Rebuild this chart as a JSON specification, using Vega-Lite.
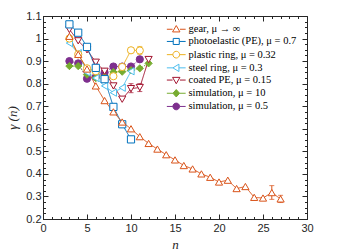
{
  "$schema": "https://vega.github.io/schema/vega-lite/v6.json",
  "width": 264,
  "height": 203,
  "autosize": "none",
  "padding": {"left": 43, "top": 16, "right": 32, "bottom": 33},
  "background": "white",
  "config": {
    "view": {"stroke": "#262626", "strokeWidth": 1},
    "axis": {"labelFont": "Liberation Sans", "labelFontSize": 11, "labelColor": "#262626", "tickColor": "#262626", "domainColor": "#262626", "grid": false}
  },
  "datasets": {
    "pts": [
      {"s": "simulation, μ = 0.5", "n": 3, "g": 0.9},
      {"s": "simulation, μ = 0.5", "n": 4, "g": 0.89},
      {"s": "simulation, μ = 0.5", "n": 5, "g": 0.822},
      {"s": "simulation, μ = 0.5", "n": 6, "g": 0.83},
      {"s": "simulation, μ = 0.5", "n": 7, "g": 0.85},
      {"s": "simulation, μ = 0.5", "n": 8, "g": 0.876},
      {"s": "simulation, μ = 0.5", "n": 9, "g": 0.876},
      {"s": "simulation, μ = 0.5", "n": 10, "g": 0.876},
      {"s": "simulation, μ = 0.5", "n": 11, "g": 0.908},
      {"s": "simulation, μ = 10", "n": 3, "g": 0.878},
      {"s": "simulation, μ = 10", "n": 4, "g": 0.878},
      {"s": "simulation, μ = 10", "n": 5, "g": 0.84},
      {"s": "simulation, μ = 10", "n": 6, "g": 0.825},
      {"s": "simulation, μ = 10", "n": 7, "g": 0.83},
      {"s": "simulation, μ = 10", "n": 8, "g": 0.852},
      {"s": "simulation, μ = 10", "n": 9, "g": 0.853},
      {"s": "simulation, μ = 10", "n": 10, "g": 0.86},
      {"s": "simulation, μ = 10", "n": 11, "g": 0.868},
      {"s": "simulation, μ = 10", "n": 12, "g": 0.89},
      {"s": "steel ring, μ = 0.3", "n": 3, "g": 0.98},
      {"s": "steel ring, μ = 0.3", "n": 4, "g": 0.935},
      {"s": "steel ring, μ = 0.3", "n": 5, "g": 0.85},
      {"s": "steel ring, μ = 0.3", "n": 6, "g": 0.825},
      {"s": "steel ring, μ = 0.3", "n": 7, "g": 0.79},
      {"s": "steel ring, μ = 0.3", "n": 8, "g": 0.76},
      {"s": "steel ring, μ = 0.3", "n": 9, "g": 0.782},
      {"s": "steel ring, μ = 0.3", "n": 10, "g": 0.855},
      {"s": "plastic ring, μ = 0.32", "n": 3, "g": 1.0},
      {"s": "plastic ring, μ = 0.32", "n": 4, "g": 0.93},
      {"s": "plastic ring, μ = 0.32", "n": 5, "g": 0.868},
      {"s": "plastic ring, μ = 0.32", "n": 6, "g": 0.855},
      {"s": "plastic ring, μ = 0.32", "n": 7, "g": 0.822},
      {"s": "plastic ring, μ = 0.32", "n": 8, "g": 0.833},
      {"s": "plastic ring, μ = 0.32", "n": 9, "g": 0.874},
      {"s": "plastic ring, μ = 0.32", "n": 10, "g": 0.948, "lo": 0.937, "hi": 0.958},
      {"s": "plastic ring, μ = 0.32", "n": 11, "g": 0.947, "lo": 0.93, "hi": 0.965},
      {"s": "coated PE, μ = 0.15", "n": 3, "g": 1.04},
      {"s": "coated PE, μ = 0.15", "n": 4, "g": 0.99},
      {"s": "coated PE, μ = 0.15", "n": 5, "g": 0.95},
      {"s": "coated PE, μ = 0.15", "n": 6, "g": 0.895},
      {"s": "coated PE, μ = 0.15", "n": 7, "g": 0.855},
      {"s": "coated PE, μ = 0.15", "n": 8, "g": 0.79},
      {"s": "coated PE, μ = 0.15", "n": 9, "g": 0.731},
      {"s": "coated PE, μ = 0.15", "n": 10, "g": 0.778, "lo": 0.76, "hi": 0.8},
      {"s": "coated PE, μ = 0.15", "n": 11, "g": 0.783, "lo": 0.765, "hi": 0.8},
      {"s": "coated PE, μ = 0.15", "n": 12, "g": 0.907},
      {"s": "photoelastic (PE), μ = 0.7", "n": 3, "g": 1.063},
      {"s": "photoelastic (PE), μ = 0.7", "n": 4, "g": 1.026},
      {"s": "photoelastic (PE), μ = 0.7", "n": 5, "g": 0.963},
      {"s": "photoelastic (PE), μ = 0.7", "n": 6, "g": 0.87},
      {"s": "photoelastic (PE), μ = 0.7", "n": 7, "g": 0.82},
      {"s": "photoelastic (PE), μ = 0.7", "n": 8, "g": 0.697},
      {"s": "photoelastic (PE), μ = 0.7", "n": 9, "g": 0.62},
      {"s": "photoelastic (PE), μ = 0.7", "n": 10, "g": 0.553},
      {"s": "gear, μ → ∞", "n": 3, "g": 1.01},
      {"s": "gear, μ → ∞", "n": 4, "g": 0.93},
      {"s": "gear, μ → ∞", "n": 5, "g": 0.865},
      {"s": "gear, μ → ∞", "n": 6, "g": 0.79},
      {"s": "gear, μ → ∞", "n": 7, "g": 0.725},
      {"s": "gear, μ → ∞", "n": 8, "g": 0.675},
      {"s": "gear, μ → ∞", "n": 9, "g": 0.63},
      {"s": "gear, μ → ∞", "n": 10, "g": 0.6},
      {"s": "gear, μ → ∞", "n": 11, "g": 0.565},
      {"s": "gear, μ → ∞", "n": 12, "g": 0.535},
      {"s": "gear, μ → ∞", "n": 13, "g": 0.51},
      {"s": "gear, μ → ∞", "n": 14, "g": 0.485},
      {"s": "gear, μ → ∞", "n": 15, "g": 0.462},
      {"s": "gear, μ → ∞", "n": 16, "g": 0.437},
      {"s": "gear, μ → ∞", "n": 17, "g": 0.422},
      {"s": "gear, μ → ∞", "n": 18, "g": 0.4},
      {"s": "gear, μ → ∞", "n": 19, "g": 0.385},
      {"s": "gear, μ → ∞", "n": 20, "g": 0.364},
      {"s": "gear, μ → ∞", "n": 21, "g": 0.372},
      {"s": "gear, μ → ∞", "n": 22, "g": 0.335},
      {"s": "gear, μ → ∞", "n": 23, "g": 0.344},
      {"s": "gear, μ → ∞", "n": 24, "g": 0.296},
      {"s": "gear, μ → ∞", "n": 25, "g": 0.293},
      {"s": "gear, μ → ∞", "n": 26, "g": 0.317, "lo": 0.287, "hi": 0.348},
      {"s": "gear, μ → ∞", "n": 27, "g": 0.289, "lo": 0.273, "hi": 0.305}
    ]
  },
  "data": {"name": "pts"},
  "resolve": {"axis": {"x": "independent", "y": "independent"}, "scale": {"shape": "independent", "fill": "independent", "stroke": "independent"}},
  "layer": [
    {
      "mark": {"type": "line", "strokeWidth": 1},
      "encoding": {
        "x": {"field": "n", "type": "quantitative", "scale": {"domain": [0, 30]},
          "axis": {"orient": "bottom", "values": [0,1,2,3,4,5,6,7,8,9,10,11,12,13,14,15,16,17,18,19,20,21,22,23,24,25,26,27,28,29,30],
            "labelExpr": "datum.value % 5 === 0 ? datum.label : ''",
            "tickSize": {"condition": {"test": "datum.value % 5 === 0", "value": -5}, "value": -2.5},
            "labelPadding": 8, "labelFlush": false,
            "title": "n", "titleFont": "Liberation Serif", "titleFontStyle": "italic", "titleFontWeight": "normal", "titleFontSize": 13, "titleColor": "#262626", "titlePadding": 5}},
        "y": {"field": "g", "type": "quantitative", "scale": {"domain": [0.2, 1.1]},
          "axis": {"orient": "left", "values": [0.2,0.225,0.25,0.275,0.3,0.325,0.35,0.375,0.4,0.425,0.45,0.475,0.5,0.525,0.55,0.575,0.6,0.625,0.65,0.675,0.7,0.725,0.75,0.775,0.8,0.825,0.85,0.875,0.9,0.925,0.95,0.975,1.0,1.025,1.05,1.075,1.1],
            "labelExpr": "abs(datum.value*10 - round(datum.value*10)) < 0.001 ? format(datum.value, '~g') : ''",
            "tickSize": {"condition": {"test": "abs(datum.value*10 - round(datum.value*10)) < 0.001", "value": -5}, "value": -2.5},
            "labelPadding": 7, "labelFlush": false,
            "title": "γ (n)", "titleFont": "Liberation Serif", "titleFontStyle": "italic", "titleFontWeight": "normal", "titleFontSize": 13, "titleColor": "#262626", "titlePadding": 6}},
        "color": {"field": "s", "type": "nominal", "legend": null,
          "scale": {"domain": ["gear, μ → ∞", "photoelastic (PE), μ = 0.7", "plastic ring, μ = 0.32", "steel ring, μ = 0.3", "coated PE, μ = 0.15", "simulation, μ = 10", "simulation, μ = 0.5"],
                    "range": ["#D95319", "#0072BD", "#EDB120", "#4DBEEE", "#A2142F", "#77AC30", "#7E2F8E"]}},
        "strokeDash": {"field": "s", "type": "nominal", "legend": null,
          "scale": {"domain": ["gear, μ → ∞", "photoelastic (PE), μ = 0.7", "plastic ring, μ = 0.32", "steel ring, μ = 0.3", "coated PE, μ = 0.15", "simulation, μ = 10", "simulation, μ = 0.5"],
                    "range": [[1, 0], [1, 0], [1, 0], [1, 0], [1, 0], [1.5, 1.5], [1.5, 1.5]]}}
      }
    },
    {
      "transform": [{"filter": "isValid(datum.lo)"}],
      "mark": {"type": "errorbar", "ticks": {"size": 5}, "thickness": 1},
      "encoding": {
        "x": {"field": "n", "type": "quantitative", "scale": {"domain": [0, 30]}, "axis": null},
        "y": {"field": "lo", "type": "quantitative", "scale": {"domain": [0.2, 1.1]}, "axis": null},
        "y2": {"field": "hi"},
        "color": {"field": "s", "type": "nominal", "legend": null}
      }
    },
    {
      "mark": {"type": "point", "size": 52, "strokeWidth": 1, "opacity": 1},
      "encoding": {
        "x": {"field": "n", "type": "quantitative", "scale": {"domain": [0, 30]},
          "axis": {"orient": "top", "values": [0,1,2,3,4,5,6,7,8,9,10,11,12,13,14,15,16,17,18,19,20,21,22,23,24,25,26,27,28,29,30],
            "labels": false, "domain": false, "title": null,
            "tickSize": {"condition": {"test": "datum.value % 5 === 0", "value": -5}, "value": -2.5}}},
        "y": {"field": "g", "type": "quantitative", "scale": {"domain": [0.2, 1.1]},
          "axis": {"orient": "right", "values": [0.2,0.225,0.25,0.275,0.3,0.325,0.35,0.375,0.4,0.425,0.45,0.475,0.5,0.525,0.55,0.575,0.6,0.625,0.65,0.675,0.7,0.725,0.75,0.775,0.8,0.825,0.85,0.875,0.9,0.925,0.95,0.975,1.0,1.025,1.05,1.075,1.1],
            "labels": false, "domain": false, "title": null,
            "tickSize": {"condition": {"test": "abs(datum.value*10 - round(datum.value*10)) < 0.001", "value": -5}, "value": -2.5}}},
        "shape": {"field": "s", "type": "nominal", "legend": null,
          "scale": {"domain": ["gear, μ → ∞", "photoelastic (PE), μ = 0.7", "plastic ring, μ = 0.32", "steel ring, μ = 0.3", "coated PE, μ = 0.15", "simulation, μ = 10", "simulation, μ = 0.5"],
                    "range": ["triangle-up", "square", "circle", "triangle-left", "triangle-down", "diamond", "circle"]}},
        "stroke": {"field": "s", "type": "nominal", "legend": null,
          "scale": {"domain": ["gear, μ → ∞", "photoelastic (PE), μ = 0.7", "plastic ring, μ = 0.32", "steel ring, μ = 0.3", "coated PE, μ = 0.15", "simulation, μ = 10", "simulation, μ = 0.5"],
                    "range": ["#D95319", "#0072BD", "#EDB120", "#4DBEEE", "#A2142F", "#77AC30", "#7E2F8E"]}},
        "fill": {"field": "s", "type": "nominal", "legend": null,
          "scale": {"domain": ["gear, μ → ∞", "photoelastic (PE), μ = 0.7", "plastic ring, μ = 0.32", "steel ring, μ = 0.3", "coated PE, μ = 0.15", "simulation, μ = 10", "simulation, μ = 0.5"],
                    "range": ["white", "white", "white", "white", "white", "#77AC30", "#7E2F8E"]}}
      }
    },
    {
      "transform": [{"filter": "datum.n < 0"}],
      "mark": {"type": "point", "size": 45, "strokeWidth": 1, "opacity": 1, "filled": false},
      "encoding": {
        "x": {"field": "n", "type": "quantitative", "scale": {"domain": [0, 30]}, "axis": null},
        "y": {"field": "g", "type": "quantitative", "scale": {"domain": [0.2, 1.1]}, "axis": null},
        "shape": {"field": "s", "type": "nominal",
          "scale": {"domain": ["gear, μ → ∞", "photoelastic (PE), μ = 0.7", "plastic ring, μ = 0.32", "steel ring, μ = 0.3", "coated PE, μ = 0.15", "simulation, μ = 10", "simulation, μ = 0.5"],
                    "range": ["M-2.8,0H-1.1M1.1,0H2.8M0,-1.1L1.1,0.8L-1.1,0.8Z", "M-2.8,0H-0.9M0.9,0H2.8M-0.9,-0.9H0.9V0.9H-0.9Z", "M-2.8,0H-1M1,0H2.8M-1,0A1,1 0 1,0 1,0A1,1 0 1,0 -1,0Z", "M-2.8,0H-1M0.8,0H2.8M-1,0L0.8,-1.1L0.8,1.1Z", "M-2.8,0H-1.1M1.1,0H2.8M0,1.1L1.1,-0.8L-1.1,-0.8Z", "M-2.8,0H-1M1,0H2.8M0,-1.1L1,0L0,1.1L-1,0Z", "M-2.8,0H-1M1,0H2.8M-1,0A1,1 0 1,0 1,0A1,1 0 1,0 -1,0Z"]},
          "legend": {"orient": "none", "legendX": 128, "legendY": 8, "title": null, "padding": 0,
            "labelFont": "Liberation Serif", "labelFontSize": 10.5, "labelColor": "#000000", "labelOffset": 7,
            "symbolSize": 45, "symbolStrokeWidth": 1, "rowPadding": 1.2, "labelLimit": 200}},
        "stroke": {"field": "s", "type": "nominal",
          "scale": {"domain": ["gear, μ → ∞", "photoelastic (PE), μ = 0.7", "plastic ring, μ = 0.32", "steel ring, μ = 0.3", "coated PE, μ = 0.15", "simulation, μ = 10", "simulation, μ = 0.5"],
                    "range": ["#D95319", "#0072BD", "#EDB120", "#4DBEEE", "#A2142F", "#77AC30", "#7E2F8E"]},
          "legend": {"orient": "none", "legendX": 128, "legendY": 8, "title": null, "padding": 0,
            "labelFont": "Liberation Serif", "labelFontSize": 10.5, "labelColor": "#000000", "labelOffset": 7,
            "symbolSize": 45, "symbolStrokeWidth": 1, "rowPadding": 1.2, "labelLimit": 200}},
        "fill": {"field": "s", "type": "nominal",
          "scale": {"domain": ["gear, μ → ∞", "photoelastic (PE), μ = 0.7", "plastic ring, μ = 0.32", "steel ring, μ = 0.3", "coated PE, μ = 0.15", "simulation, μ = 10", "simulation, μ = 0.5"],
                    "range": ["white", "white", "white", "white", "white", "#77AC30", "#7E2F8E"]},
          "legend": {"orient": "none", "legendX": 128, "legendY": 8, "title": null, "padding": 0,
            "labelFont": "Liberation Serif", "labelFontSize": 10.5, "labelColor": "#000000", "labelOffset": 7,
            "symbolSize": 45, "symbolStrokeWidth": 1, "rowPadding": 1.2, "labelLimit": 200}}
      }
    }
  ]
}
